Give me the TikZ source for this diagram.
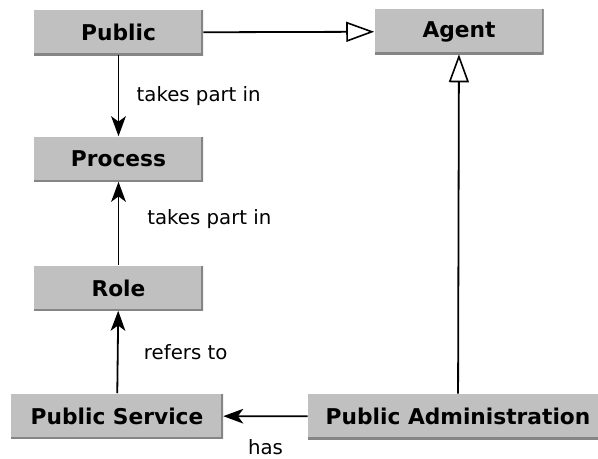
\documentclass[tikz,border=0pt]{standalone}
\usepackage{fontspec}
\setmainfont{DejaVu Sans}
\usetikzlibrary{arrows.meta}
\usetikzlibrary{positioning}

\definecolor{boxgray}{HTML}{C0C0C0}
\definecolor{shadegray}{HTML}{858585}

\tikzset{
    classbox/.style={fill=boxgray,minimum height=33.75pt,inner sep=0pt,
        font=\fontsize{16.3}{19}\selectfont\bfseries,
        path picture={\draw[shadegray,line width=3pt]
            (path picture bounding box.south west) -- (path picture bounding box.south east)
            -- (path picture bounding box.north east);}},
    lbl/.style={inner sep=0pt,font=\fontsize{14.8}{17}\selectfont},
    assoc/.style={line width=1.35pt,-{Stealth[length=15pt,width=11pt,inset=4pt]}},
    isa/.style={line width=1.35pt,-{Triangle[open,length=21pt,width=15pt,line width=1.2pt]}}
}

\begin{document}
\begin{tikzpicture}[x=0.75pt,y=-0.75pt]
        \useasboundingbox (0,0) rectangle (598,458);
        \node[classbox,minimum width=126.75pt] (public) at (118.5,32.5) {Public};
        \node[classbox,minimum width=126.75pt] (agent) at (459,31.5) {Agent};
        \node[classbox,minimum width=126.75pt] (process) at (118.5,159) {Process};
        \node[classbox,minimum width=126.75pt] (role) at (118.5,288) {Role};
        \node[classbox,minimum width=159pt] (service) at (117,416) {Public Service};
        \node[classbox,minimum width=225pt] (admin) at (458,416.5) {Public Administration};

        \draw[assoc] (public) -- node[lbl,midway,right=13pt] {takes part in} (process);
        \draw[assoc] (role) -- node[lbl,pos=0.55,right=21pt] {takes part in} (process);
        \draw[assoc] (service) -- node[lbl,midway,right=19pt] {refers to} (role);
        \draw[assoc] (admin) -- node[lbl,midway,below=17pt] {has} (service);
        \draw[isa] (public) -- (agent);
        \draw[isa] (admin) -- (agent);
    \end{tikzpicture}
\end{document}
